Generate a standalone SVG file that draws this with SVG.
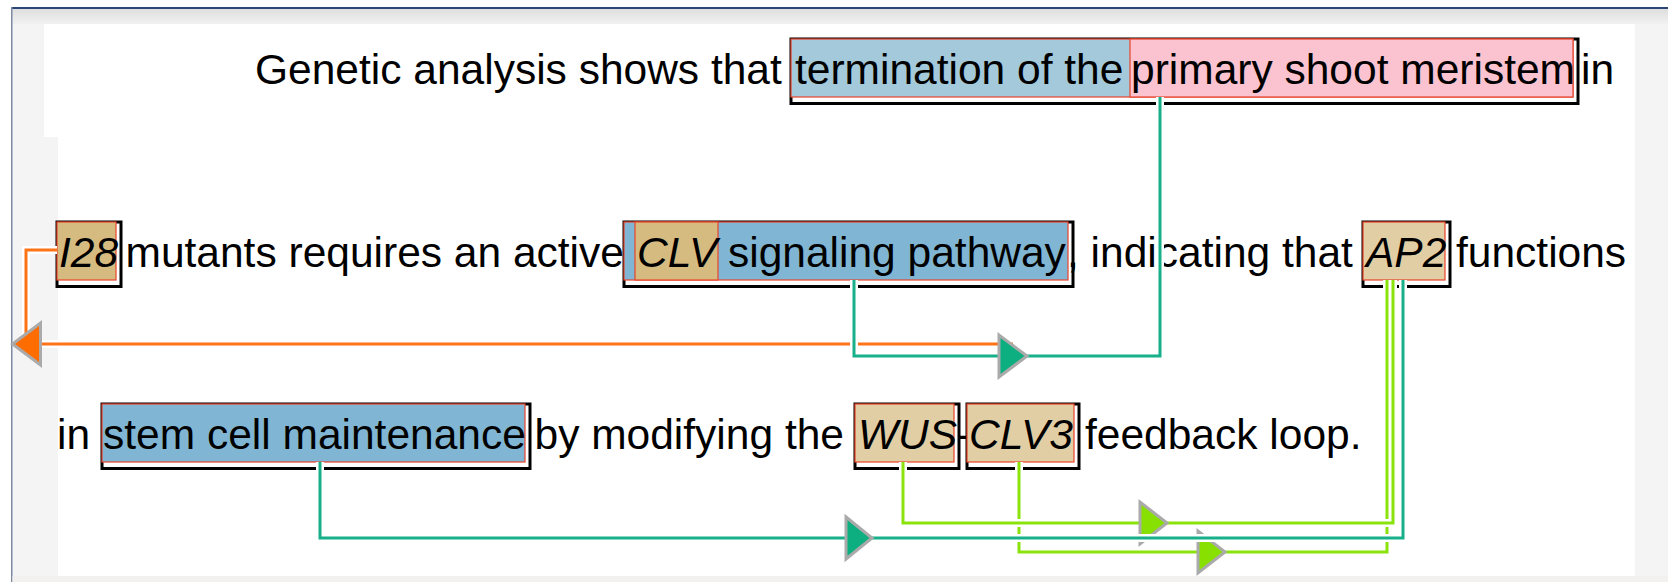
<svg xmlns="http://www.w3.org/2000/svg" width="1668" height="582" viewBox="0 0 1668 582">
<defs>
<linearGradient id="band" x1="0" y1="0" x2="0" y2="1">
<stop offset="0" stop-color="#dedede"/>
<stop offset="1" stop-color="#f1f1f1"/>
</linearGradient>
<style>
text{font-family:"Liberation Sans",Arial,sans-serif;font-size:42.5px;fill:#000}
.it{font-style:italic}
.frame{fill:none;stroke:#000;stroke-width:3}
.box{stroke:#e8442c;stroke-width:1.2}
.blue1{fill:#a3c9db}
.pink{fill:#fbc3d0}
.blue{fill:#80b6d3}
.tanD{fill:#d6bb80}
.tanL{fill:#e2cea4}
.halo{fill:none;stroke:#fff;stroke-width:8}
.ln{fill:none;stroke-width:3}
.arr{stroke:#aaa;stroke-width:3;stroke-linejoin:miter}
</style>
</defs>
<!-- background -->
<rect x="0" y="0" width="1668" height="582" fill="#fff"/>
<rect x="12" y="9" width="1656" height="573" fill="#f4f4f4"/>
<rect x="12" y="9" width="1656" height="15" fill="url(#band)"/>
<rect x="11" y="7" width="1657" height="2" fill="#2a4676"/>
<rect x="11" y="7" width="1.5" height="575" fill="#7d8aa3"/>
<rect x="12.5" y="576" width="1655.5" height="6" fill="#f2f1f0"/>
<rect x="44" y="24" width="1591" height="113" fill="#fff"/>
<rect x="58" y="137" width="1577" height="439" fill="#fff"/>

<!-- plain text -->
<g id="plain-text">
<text x="255" y="84">Genetic analysis shows that</text>
<text x="1581" y="84">in</text>
<text x="125.5" y="266.5">mutants requires an active</text>
<text x="1067" y="266.5">, indicating that</text>
<text x="1456" y="266.5">functions</text>
<text x="57" y="449">in</text>
<text x="534.5" y="449">by modifying the</text>
<text x="957" y="449">-</text>
<text x="1085" y="449">feedback loop.</text>
</g>

<!-- nodes -->
<g id="node-termination">
<rect class="frame" x="791" y="39" width="787" height="64.5"/>
<rect class="box blue1" x="791" y="39" width="782" height="58"/>
<text x="795" y="84">termination of the</text>
</g>
<g id="node-primary-shoot-meristem">
<rect class="box pink" x="1130" y="39" width="443" height="58"/>
<text x="1131" y="84">primary shoot meristem</text>
</g>
<g id="node-I28">
<rect class="frame" x="57" y="222" width="64" height="64.5"/>
<rect class="box tanD" x="57" y="222" width="59" height="58"/>
<text class="it" x="59" y="266.5">I28</text>
</g>
<g id="node-CLV-signaling-pathway">
<rect class="frame" x="624" y="222" width="449" height="64.5"/>
<rect class="box blue" x="624" y="222" width="444" height="58"/>
<text x="728" y="266.5">signaling pathway</text>
</g>
<g id="node-CLV">
<rect class="box tanD" x="635" y="222" width="83" height="58"/>
<text class="it" x="637" y="266.5">CLV</text>
</g>
<g id="node-AP2">
<rect class="frame" x="1363" y="222" width="87" height="64.5"/>
<rect class="box tanL" x="1363" y="222" width="82" height="58"/>
<text class="it" x="1366" y="266.5">AP2</text>
</g>
<g id="node-stem-cell-maintenance">
<rect class="frame" x="102" y="404" width="428" height="64.5"/>
<rect class="box blue" x="102" y="404" width="423" height="58"/>
<text x="103" y="449">stem cell maintenance</text>
</g>
<g id="node-WUS">
<rect class="frame" x="855" y="404" width="104" height="64.5"/>
<rect class="box tanL" x="855" y="404" width="99" height="58"/>
<text class="it" x="858" y="449">WUS</text>
</g>
<g id="node-CLV3">
<rect class="frame" x="967" y="404" width="112" height="64.5"/>
<rect class="box tanL" x="967" y="404" width="107" height="58"/>
<text class="it" x="969" y="449">CLV3</text>
</g>

<!-- connectors -->
<g id="connectors">
<g id="c-orange">
<polyline class="halo" points="57,250 26,250 26,344 1013,344"/>
<polyline class="ln" stroke="#ff7314" points="57,250 26,250 26,344 1013,344"/>
<polygon class="arr" fill="#ff6c00" points="40.5,323 40.5,365 12.5,344"/>
</g>
<g id="c-clv-psm">
<polyline class="halo" points="854,280 854,356 1160,356 1160,97"/>
<polyline class="ln" stroke="#17b08a" points="854,280 854,356 1160,356 1160,97"/>
<polygon class="arr" fill="#0dae80" points="999,335 999,377 1027,356"/>
</g>
<g id="c-clv3-ap2">
<polyline class="halo" points="1019,462 1019,552 1387,552 1387,280"/>
<polyline class="ln" stroke="#8ae40c" points="1019,462 1019,552 1387,552 1387,280"/>
<polygon class="arr" fill="#88e000" points="1198,531 1198,573 1225,552"/>
</g>
<g id="c-wus-ap2">
<polyline class="halo" points="903,462 903,523 1393,523 1393,280"/>
<polyline class="ln" stroke="#8ae40c" points="903,462 903,523 1393,523 1393,280"/>
<polygon class="arr" fill="#88e000" points="1140,502 1140,544 1167,523"/>
</g>
<g id="c-stem-ap2">
<polyline class="halo" points="320,462 320,538 1403,538 1403,280"/>
<polyline class="ln" stroke="#17b08a" points="320,462 320,538 1403,538 1403,280"/>
<polygon class="arr" fill="#0dae80" points="846,517 846,559 872,538"/>
</g>
</g>
</svg>
